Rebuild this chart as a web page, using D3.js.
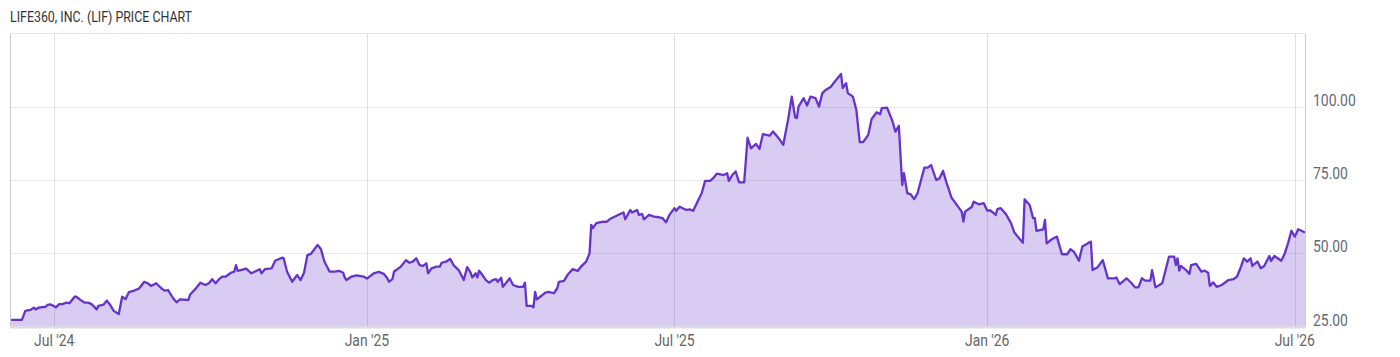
<!DOCTYPE html>
<html>
<head>
<meta charset="utf-8">
<script src="https://cdn.jsdelivr.net/npm/d3@7"></script>
<style>
  body { margin: 0; background: #fff; }
  svg { display: block; font-family: Roboto, "Liberation Sans", sans-serif; }
</style>
</head>
<body>
<svg id="chart" width="1400" height="357"></svg>
<script>
// days counted from 2024-07-01
const dayOffsets = [
  -26,-19,-17,-14,-12,-11,-9,-5,-4,-2,1,3,5,7,9,12,13,16,18,20,22,25,26,29,31,33,35,38,40,42,
  44,47,50,53,55,57,60,63,65,67,70,72,74,79,80,83,86,89,91,93,95,97,99,101,104,106,107,108,113,116,
  121,122,124,128,130,134,135,137,140,143,145,147,149,151,155,157,159,162,165,
  168,170,171,172,175,178,182,184,188,191,194,196,197,199,200,204,207,209,211,213,
  215,217,219,220,222,225,227,228,231,233,235,238,239,241,243,245,246,248,249,250,
  252,254,256,258,260,261,263,264,266,268,270,273,276,277,278,281,282,283,284,286,
  289,291,294,296,297,300,302,305,308,310,313,315,316,317,319,323,325,327,333,335,
  336,339,340,343,344,346,347,350,353,356,
  358,360,362,365,366,368,372,374,376,379,381,383,386,388,390,394,396,397,399,401,
  403,406,408,410,413,415,417,421,423,427,429,432,434,436,437,438,441,443,445,448,
  450,452,454,457,459,463,464,466,467,470,472,474,476,479,481,484,486,487,490,493,
  495,497,499,500,502,504,506,508,512,514,516,519,521,523,525,528,534,535,536,540,541,544,
  547,549,551,554,555,557,560,563,565,570,571,574,576,577,578,582,583,584,587,590,
  593,596,598,600,603,605,610,611,614,617,620,624,625,627,631,634,636,638,640,642,
  645,646,648,652,656,659,660,661,662,663,666,668,669,672,675,677,679,680,682,684,
  687,691,694,696,698,700,702,704,705,708,710,712,715,716,718,722,724,726,728,730,732,736
];

const closePrices = [
  27.3,27.3,30.4,30.7,31.5,30.9,31.5,31.8,32.4,32.6,31.6,32.7,32.7,33.2,33.0,35.2,35.2,33.9,33.2,33.2,
  32.7,30.9,32.1,32.5,33.9,32.4,30.4,29.3,35.2,34.4,36.8,37.3,38.0,40.3,39.8,38.9,39.8,38.1,37.3,37.5,
  34.7,33.3,34.3,34.1,36.0,37.8,40.0,39.2,39.8,41.2,39.8,41.2,42.1,42.1,43.4,43.8,46.0,44.0,44.8,43.2,
  44.6,43.2,44.6,44.9,47.5,48.5,48.4,43.8,40.3,42.6,40.9,43.4,49.4,49.8,52.9,51.4,47.2,43.8,43.8,
  44.0,43.4,41.7,40.9,42.1,42.5,42.1,41.4,43.2,43.7,43.0,41.5,40.3,41.2,43.8,45.5,47.7,46.8,47.2,48.3,
  46.0,45.7,46.6,43.2,44.9,45.5,45.5,46.8,47.3,48.1,46.0,44.3,43.2,40.9,45.3,43.4,41.8,43.2,41.8,44.1,
  42.6,40.9,40.0,40.9,41.2,40.3,41.7,38.6,40.0,41.5,39.2,38.6,38.6,40.0,32.1,32.1,31.6,36.9,34.3,35.2,
  36.6,36.9,36.4,38.1,40.3,40.6,42.6,44.6,44.0,45.5,47.2,50.0,59.7,58.6,60.3,60.8,60.7,61.7,63.4,63.9,
  61.6,64.8,63.9,64.8,63.1,63.4,61.6,63.1,62.5,62.3,
  62.0,60.6,63.1,65.4,64.5,65.9,64.8,65.0,64.5,68.2,70.5,74.7,74.7,75.8,77.2,76.7,77.3,74.7,76.7,77.9,
  74.2,74.2,89.4,85.8,87.3,85.6,90.6,90.1,91.5,88.7,87.0,96.1,103.4,96.3,96.1,100.0,102.9,100.4,103.4,102.9,
  100.0,104.6,105.7,106.8,108.3,111.1,106.3,108.0,104.6,103.4,98.9,87.9,87.9,90.4,95.8,98.1,97.4,99.5,99.7,95.5,
  91.5,93.5,73.3,77.3,70.5,70.1,68.5,70.5,79.2,79.2,80.1,75.0,75.6,78.1,74.2,69.0,64.2,60.8,64.2,65.9,67.6,66.7,
  67.1,64.6,64.6,63.1,65.1,65.4,63.4,60.3,57.1,53.6,68.4,66.5,62.0,62.0,57.7,58.2,61.4,53.4,54.8,55.7,
  49.7,49.7,51.4,50.6,47.5,52.3,54.0,44.3,45.3,47.7,41.5,41.5,41.8,39.5,41.5,39.8,38.4,38.4,41.5,40.7,
  40.7,44.3,38.4,39.8,48.9,48.9,46.0,48.3,44.1,45.7,44.3,43.0,46.0,46.4,43.8,44.1,43.4,38.9,40.1,38.6,
  39.2,40.9,41.2,42.1,44.9,48.3,47.2,48.3,45.7,47.2,44.9,45.7,49.1,47.4,49.1,47.5,49.8,53.4,57.7,55.7,58.2,57.1
];

const yTicks = [25, 50, 75, 100];
const yDomain = [25, 125];
const chartTitle = "LIFE360, INC. (LIF) PRICE CHART";

const startDate = new Date(2024, 6, 1);
const data = dayOffsets.map((d, i) => ({date: d3.timeDay.offset(startDate, d), value: closePrices[i]}));

const svg = d3.select("#chart");
const plot = {left: 10, right: 1305.5, top: 33.3, bottom: 326.7};

const x = d3.scaleTime()
    .domain(d3.extent(data, d => d.date))
    .range([plot.left, plot.right - 0.5]);

const y = d3.scaleLinear()
    .domain(yDomain)
    .range([plot.bottom, plot.top]);

// title
svg.append("text")
    .attr("x", 10)
    .attr("y", 21.5)
    .attr("font-size", 14)
    .attr("fill", "#333")
    .attr("textLength", 182)
    .attr("lengthAdjust", "spacingAndGlyphs")
    .text(chartTitle);

// grid
const xTicks = x.ticks(d3.timeMonth.every(6));

svg.append("g").selectAll("line")
    .data(yTicks.filter(t => t > yDomain[0]))
    .join("line")
    .attr("x1", plot.left).attr("x2", plot.right)
    .attr("y1", d => Math.round(y(d)) + 0.5).attr("y2", d => Math.round(y(d)) + 0.5)
    .attr("stroke", "#e8e8e8");

svg.append("g").selectAll("line")
    .data(xTicks)
    .join("line")
    .attr("x1", d => Math.round(x(d)) + 0.5).attr("x2", d => Math.round(x(d)) + 0.5)
    .attr("y1", plot.top).attr("y2", plot.bottom)
    .attr("stroke", "#e0e0e0");

// area + line
const area = d3.area()
    .x(d => x(d.date))
    .y0(plot.bottom)
    .y1(d => y(d.value));

const line = d3.line()
    .x(d => x(d.date))
    .y(d => y(d.value));

svg.append("path")
    .datum(data)
    .attr("d", area)
    .attr("fill", "#6633cc")
    .attr("fill-opacity", 0.25);

svg.append("path")
    .datum(data)
    .attr("d", line)
    .attr("fill", "none")
    .attr("stroke", "#6633cc")
    .attr("stroke-width", 2.3)
    .attr("stroke-linejoin", "round");

// frame
svg.append("line").attr("x1", plot.left + 0.5).attr("x2", plot.left + 0.5)
    .attr("y1", plot.top).attr("y2", plot.bottom).attr("stroke", "#cccccc");
svg.append("line").attr("x1", plot.right).attr("x2", plot.right)
    .attr("y1", plot.top).attr("y2", plot.bottom).attr("stroke", "#cccccc");
svg.append("line").attr("x1", plot.left).attr("x2", plot.right)
    .attr("y1", 33.5).attr("y2", 33.5).attr("stroke", "#e6e6e6");
svg.append("line").attr("x1", plot.left).attr("x2", plot.right)
    .attr("y1", 327.5).attr("y2", 327.5).attr("stroke", "#dcdcdc").attr("stroke-width", 2);

// y labels, sitting just above their grid line
svg.append("g").selectAll("text")
    .data(yTicks)
    .join("text")
    .attr("transform", d => `translate(1313, ${y(d) - 1}) scale(0.87, 1)`)
    .attr("font-size", 16)
    .attr("fill", "#626a75")
    .text(d => d3.format(".2f")(d));

// x labels
const fmt = d3.timeFormat("%b '%y");
svg.append("g").selectAll("text")
    .data(xTicks)
    .join("text")
    .attr("transform", d => `translate(${x(d)}, 345.5) scale(0.87, 1)`)
    .attr("text-anchor", "middle")
    .attr("font-size", 16)
    .attr("fill", "#666")
    .text(d => fmt(d));
</script>
</body>
</html>
